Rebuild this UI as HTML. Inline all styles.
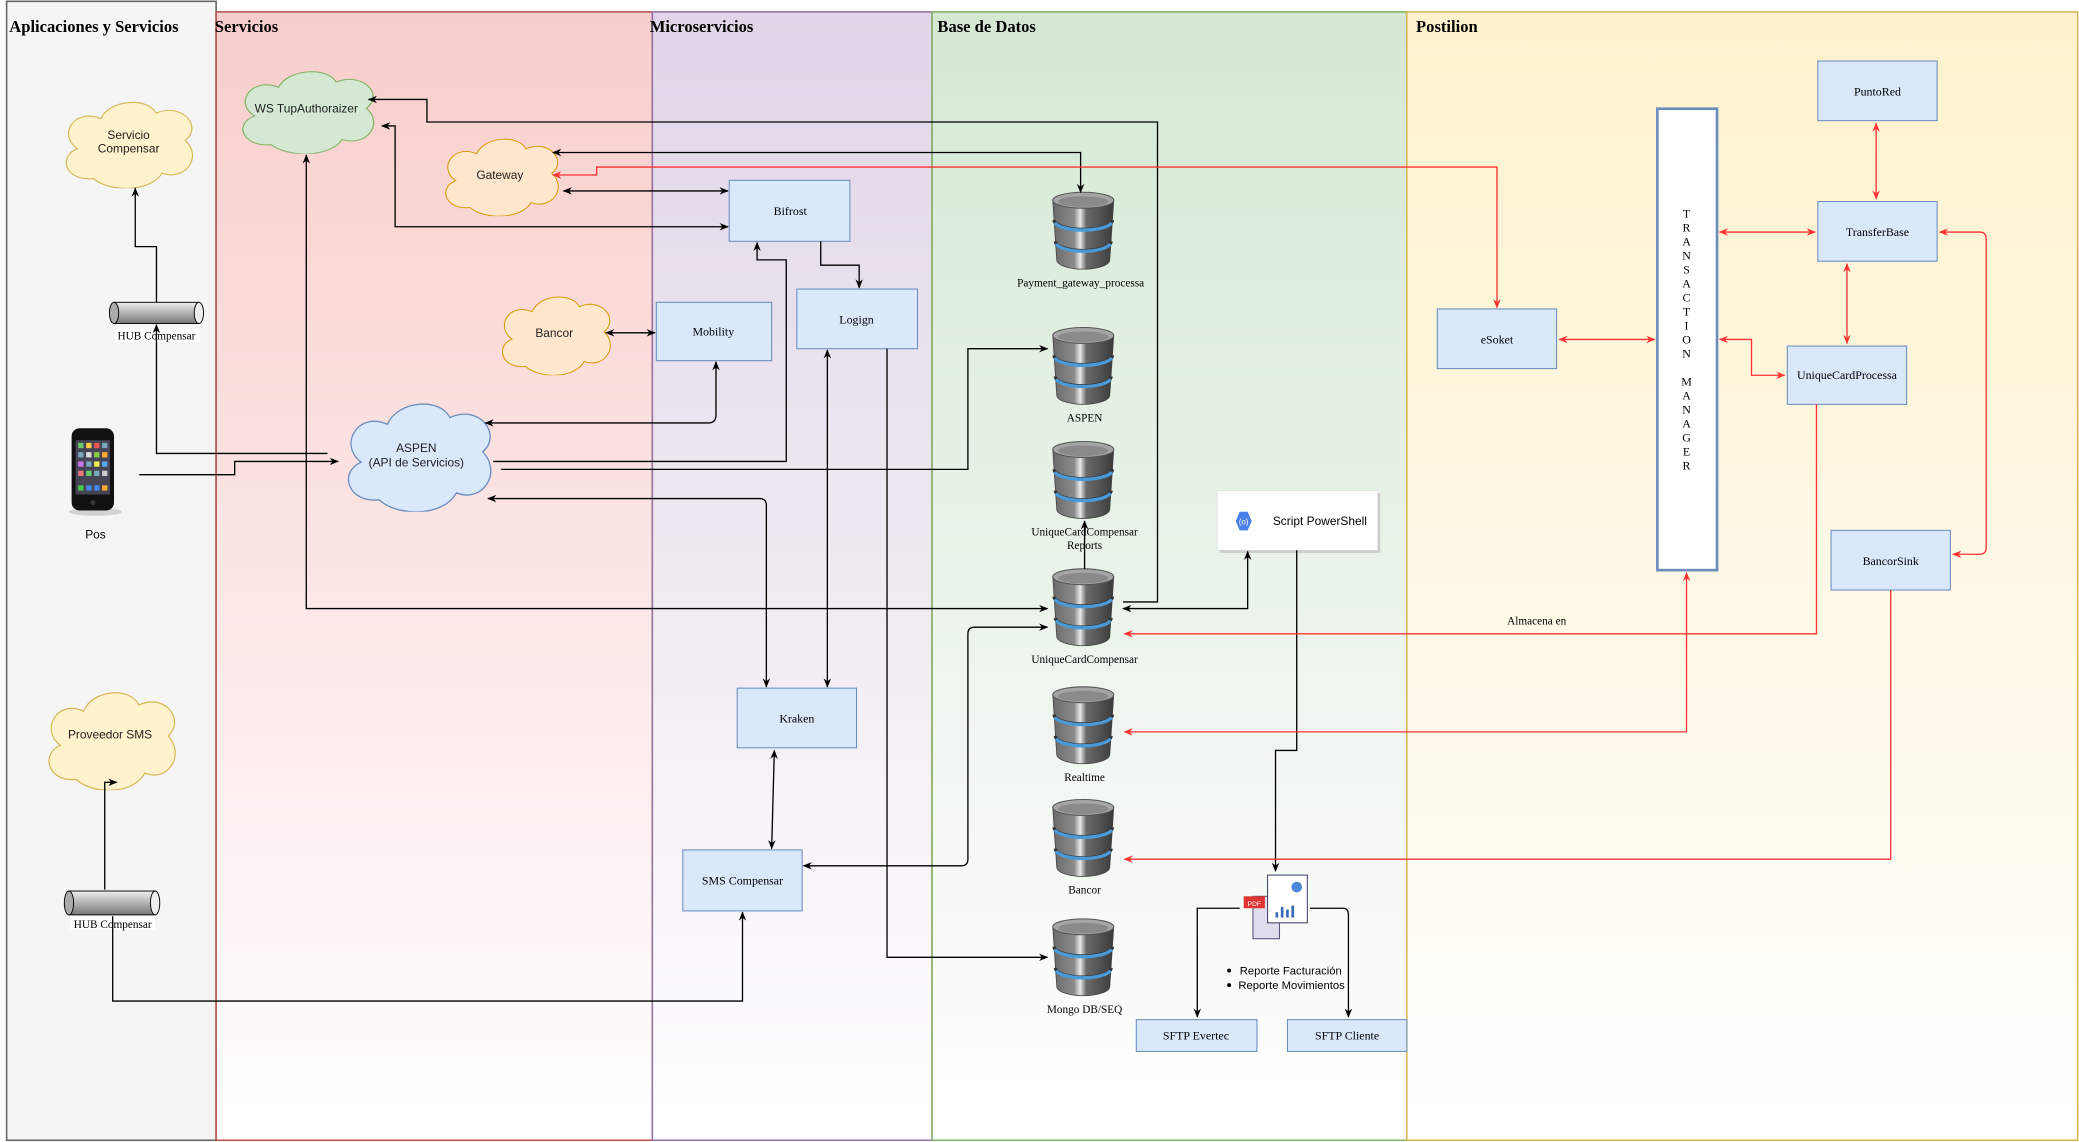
<!DOCTYPE html>
<html><head><meta charset="utf-8"><style>html,body{margin:0;padding:0;background:#fff}svg{display:block}</style></head>
<body>
<svg width="2079" height="1142" viewBox="0 0 1568 861.3" xmlns="http://www.w3.org/2000/svg" font-family="'Liberation Serif', serif">
<defs>
<linearGradient id="gS" x1="0" y1="0" x2="0" y2="1"><stop offset="0" stop-color="#f8cecc"/><stop offset="1" stop-color="#ffffff"/></linearGradient>
<linearGradient id="gM" x1="0" y1="0" x2="0" y2="1"><stop offset="0" stop-color="#e1d5e7"/><stop offset="1" stop-color="#ffffff"/></linearGradient>
<linearGradient id="gB" x1="0" y1="0" x2="0" y2="1"><stop offset="0" stop-color="#d5e8d4"/><stop offset="1" stop-color="#ffffff"/></linearGradient>
<linearGradient id="gP" x1="0" y1="0" x2="0" y2="1"><stop offset="0" stop-color="#fff2cc"/><stop offset="1" stop-color="#ffffff"/></linearGradient>
<linearGradient id="dbg" x1="0" y1="0" x2="1" y2="0"><stop offset="0" stop-color="#6a6a6a"/><stop offset="0.35" stop-color="#8a8a8a"/><stop offset="0.45" stop-color="#e8e8e8"/><stop offset="0.55" stop-color="#6a6a6a"/><stop offset="1" stop-color="#3a3a3a"/></linearGradient>
<linearGradient id="cyl" x1="0" y1="0" x2="0" y2="1"><stop offset="0" stop-color="#eee"/><stop offset="1" stop-color="#777"/></linearGradient>
<marker id="a" viewBox="0 0 10 10" refX="9" refY="5" markerWidth="7" markerHeight="7" markerUnits="userSpaceOnUse" orient="auto-start-reverse"><path d="M0,1 L10,5 L0,9 L3,5z" fill="#000"/></marker>
<marker id="r" viewBox="0 0 10 10" refX="9" refY="5" markerWidth="7" markerHeight="7" markerUnits="userSpaceOnUse" orient="auto-start-reverse"><path d="M0,1 L10,5 L0,9 L3,5z" fill="#f33"/></marker>
<symbol id="db" viewBox="0 0 52 62">
<path d="M3,7 L6,52 A20,7 0 0 0 46,52 L49,7 Z" fill="url(#dbg)" stroke="#444" stroke-width="0.6"/>
<path d="M4,22 A22,7 0 0 0 48,22" fill="none" stroke="#333" stroke-width="2.5"/>
<path d="M4.5,24 A22,7 0 0 0 47.5,24" fill="none" stroke="#4a9ad8" stroke-width="2.5"/>
<path d="M5,38 A21,7 0 0 0 47,38" fill="none" stroke="#333" stroke-width="2.5"/>
<path d="M5.5,40 A21,7 0 0 0 46.5,40" fill="none" stroke="#4a9ad8" stroke-width="2.5"/>
<ellipse cx="26" cy="7" rx="23" ry="6" fill="#a5a5a5" stroke="#555" stroke-width="0.8"/>
<ellipse cx="26" cy="8" rx="19" ry="4" fill="#8a8a8a"/>
</symbol>
<symbol id="cloud" viewBox="0 0 100 65" preserveAspectRatio="none">
<path d="M25,58 C6,60 0,42 14,36 C0,26 12,6 30,14 C36,0 62,-2 68,10 C86,2 100,20 88,30 C100,42 88,60 72,54 C64,68 36,68 25,58 Z"/>
</symbol>
</defs>

<!-- lanes -->
<rect x="5" y="1" width="158" height="859" fill="#f5f5f5" stroke="#666" stroke-width="1.2"/>
<rect x="163" y="9" width="329" height="851" fill="url(#gS)" stroke="#b85450" stroke-width="1.2"/>
<rect x="492" y="9" width="211" height="851" fill="url(#gM)" stroke="#9673a6" stroke-width="1.2"/>
<rect x="703" y="9" width="358" height="851" fill="url(#gB)" stroke="#82b366" stroke-width="1.2"/>
<rect x="1061" y="9" width="506" height="851" fill="url(#gP)" stroke="#d6b656" stroke-width="1.2"/>
<g font-weight="bold" font-size="12.5">
<text x="7" y="24">Aplicaciones y Servicios</text>
<text x="162" y="24">Servicios</text>
<text x="490" y="24">Microservicios</text>
<text x="707" y="24">Base de Datos</text>
<text x="1068" y="24">Postilion</text>
</g>

<!-- clouds -->
<use href="#cloud" x="43" y="75" width="110" height="67" fill="#fff2cc" stroke="#d6b656" stroke-width="0.8"/>
<use href="#cloud" x="176" y="52" width="114" height="64" fill="#d5e8d4" stroke="#82b366" stroke-width="0.8"/>
<use href="#cloud" x="330" y="103" width="98" height="60" fill="#ffe6cc" stroke="#d79b00" stroke-width="0.8"/>
<use href="#cloud" x="373" y="222" width="94" height="61" fill="#ffe6cc" stroke="#d79b00" stroke-width="0.8"/>
<use href="#cloud" x="255" y="302" width="124" height="84" fill="#dae8fc" stroke="#6c8ebf" stroke-width="0.8"/>
<use href="#cloud" x="30" y="520" width="110" height="76" fill="#fff2cc" stroke="#d6b656" stroke-width="0.8"/>
<g font-family="'Liberation Sans', sans-serif" font-size="9" text-anchor="middle" fill="#222">
<text x="97" y="105">Servicio</text><text x="97" y="115">Compensar</text>
<text x="231" y="85">WS TupAuthoraizer</text>
<text x="377" y="135">Gateway</text>
<text x="418" y="254">Bancor</text>
<text x="314" y="341">ASPEN</text><text x="314" y="352">(API de Servicios)</text>
<text x="83" y="557">Proveedor SMS</text>
</g>

<!-- hubs -->
<g stroke="#000" stroke-width="0.7">
<rect x="86" y="228" width="64" height="16" fill="url(#cyl)"/>
<ellipse cx="86" cy="236" rx="3.5" ry="8" fill="#aaa"/>
<ellipse cx="150" cy="236" rx="3.5" ry="8" fill="#eee"/>
<rect x="52" y="672" width="65" height="18" fill="url(#cyl)"/>
<ellipse cx="52" cy="681" rx="3.5" ry="9" fill="#aaa"/>
<ellipse cx="117" cy="681" rx="3.5" ry="9" fill="#eee"/>
</g>
<g font-size="8.5" text-anchor="middle">
<rect x="87" y="248" width="64" height="10" fill="#fff"/>
<text x="118" y="256">HUB Compensar</text>
<rect x="53" y="691" width="64" height="10" fill="#fff"/>
<text x="85" y="700">HUB Compensar</text>
</g>

<!-- phone -->
<ellipse cx="72" cy="386" rx="20" ry="3" fill="#bbb" opacity="0.6"/>
<rect x="54" y="323" width="32" height="62" rx="6" fill="#111"/>
<rect x="57" y="332" width="26" height="41" fill="#445"/>
<g fill="#7ab">
<rect x="59" y="334" width="4" height="4" fill="#6c6"/><rect x="65" y="334" width="4" height="4" fill="#fc4"/><rect x="71" y="334" width="4" height="4" fill="#e55"/><rect x="77" y="334" width="4" height="4"/>
<rect x="59" y="341" width="4" height="4"/><rect x="65" y="341" width="4" height="4" fill="#ddd"/><rect x="71" y="341" width="4" height="4" fill="#8c4"/><rect x="77" y="341" width="4" height="4" fill="#fa3"/>
<rect x="59" y="348" width="4" height="4" fill="#c7e"/><rect x="65" y="348" width="4" height="4"/><rect x="71" y="348" width="4" height="4" fill="#ee5"/><rect x="77" y="348" width="4" height="4" fill="#5ae"/>
<rect x="59" y="355" width="4" height="4" fill="#e77"/><rect x="65" y="355" width="4" height="4" fill="#6c6"/><rect x="71" y="355" width="4" height="4"/><rect x="77" y="355" width="4" height="4" fill="#ccc"/>
<rect x="59" y="366" width="4" height="4" fill="#4c4"/><rect x="65" y="366" width="4" height="4" fill="#48e"/><rect x="71" y="366" width="4" height="4" fill="#48e"/><rect x="77" y="366" width="4" height="4" fill="#fa3"/>
</g>
<circle cx="70" cy="379" r="2" fill="#333"/>
<text x="72" y="406" font-family="'Liberation Sans', sans-serif" font-size="9" text-anchor="middle">Pos</text>

<!-- boxes -->
<g fill="#dae8fc" stroke="#6c8ebf" stroke-width="0.8">
<rect x="550" y="136" width="91" height="46"/>
<rect x="495" y="228" width="87" height="44"/>
<rect x="601" y="218" width="91" height="45"/>
<rect x="556" y="519" width="90" height="45"/>
<rect x="515" y="641" width="90" height="46"/>
<rect x="857" y="769" width="91" height="24"/>
<rect x="971" y="769" width="90" height="24"/>
<rect x="1084" y="233" width="90" height="45"/>
<rect x="1371" y="46" width="90" height="45"/>
<rect x="1371" y="152" width="90" height="45"/>
<rect x="1348" y="261" width="90" height="44"/>
<rect x="1381" y="400" width="90" height="45"/>
</g>
<g font-size="9" text-anchor="middle">
<text x="596" y="162">Bifrost</text>
<text x="538" y="253">Mobility</text>
<text x="646" y="244">Logign</text>
<text x="601" y="545">Kraken</text>
<text x="560" y="667">SMS Compensar</text>
<text x="902" y="784">SFTP Evertec</text>
<text x="1016" y="784">SFTP Cliente</text>
<text x="1129" y="259">eSoket</text>
<text x="1416" y="72">PuntoRed</text>
<text x="1416" y="178">TransferBase</text>
<text x="1393" y="286">UniqueCardProcessa</text>
<text x="1426" y="426">BancorSink</text>
</g>

<!-- transaction manager -->
<rect x="1250" y="82" width="45" height="348" fill="#fff" stroke="#6c8ebf" stroke-width="2"/>
<g font-size="9" text-anchor="middle">
<text x="1272" y="164">T</text><text x="1272" y="174.5">R</text><text x="1272" y="185">A</text><text x="1272" y="195.6">N</text><text x="1272" y="206.2">S</text><text x="1272" y="216.7">A</text><text x="1272" y="227.3">C</text><text x="1272" y="237.8">T</text><text x="1272" y="248.4">I</text><text x="1272" y="259">O</text><text x="1272" y="269.5">N</text>
<text x="1272" y="290.6">M</text><text x="1272" y="301.2">A</text><text x="1272" y="311.7">N</text><text x="1272" y="322.3">A</text><text x="1272" y="332.8">G</text><text x="1272" y="343.4">E</text><text x="1272" y="354">R</text>
</g>

<!-- DBs -->
<use href="#db" x="791" y="144" width="52" height="62"/>
<use href="#db" x="791" y="246" width="52" height="62"/>
<use href="#db" x="791" y="332" width="52" height="62"/>
<use href="#db" x="791" y="428" width="52" height="62"/>
<use href="#db" x="791" y="517" width="52" height="62"/>
<use href="#db" x="791" y="602" width="52" height="62"/>
<use href="#db" x="791" y="692" width="52" height="62"/>
<g font-size="8.5" text-anchor="middle">
<text x="815" y="216">Payment_gateway_processa</text>
<text x="818" y="318">ASPEN</text>
<text x="818" y="404">UniqueCardCompensar</text><text x="818" y="414">Reports</text>
<text x="818" y="500">UniqueCardCompensar</text>
<text x="818" y="589">Realtime</text>
<text x="818" y="674">Bancor</text>
<text x="818" y="764">Mongo DB/SEQ</text>
</g>

<!-- script powershell -->
<rect x="920" y="372" width="121" height="45" fill="#ccc"/>
<rect x="918" y="370" width="121" height="45" fill="#fff" stroke="#ddd" stroke-width="0.5"/>
<polygon points="932,393 935,386 941,386 944,393 941,400 935,400" fill="#4a80e8"/>
<text x="938" y="395.5" font-size="6" fill="#fff" text-anchor="middle" font-family="'Liberation Sans', sans-serif">(o)</text>
<text x="960" y="396" font-family="'Liberation Sans', sans-serif" font-size="9">Script PowerShell</text>

<!-- report icon -->
<rect x="945" y="676" width="20" height="32" fill="#dde" stroke="#557" stroke-width="0.8"/>
<rect x="938" y="676" width="16" height="9" fill="#d33"/>
<text x="946" y="683.5" font-size="5" fill="#fff" text-anchor="middle" font-family="'Liberation Sans', sans-serif">PDF</text>
<rect x="956" y="660" width="30" height="36" fill="#fff" stroke="#446" stroke-width="0.8"/>
<circle cx="978" cy="669" r="4" fill="#4a8ad8"/>
<g fill="#3a6ab8"><rect x="962" y="688" width="2" height="4"/><rect x="966" y="684" width="2" height="8"/><rect x="970" y="686" width="2" height="6"/><rect x="974" y="683" width="2" height="9"/></g>
<g font-family="'Liberation Sans', sans-serif" font-size="8.5">
<circle cx="927" cy="732" r="1.5"/><text x="935" y="735">Reporte Facturación</text>
<circle cx="927" cy="743" r="1.5"/><text x="934" y="746">Reporte Movimientos</text>
</g>

<!-- black connectors -->
<g fill="none" stroke="#000" stroke-width="1">
<path d="M847,454 H873 V92 H322 V75 H278" marker-end="url(#a)"/>
<path d="M288,95 H298 V171 H549" marker-start="url(#a)" marker-end="url(#a)"/>
<path d="M417,115 H815 V145" marker-start="url(#a)" marker-end="url(#a)"/>
<path d="M425,144 H549" marker-start="url(#a)" marker-end="url(#a)"/>
<path d="M619,182 V200 H648 V217" marker-end="url(#a)"/>
<path d="M372,348 H593 V196 H571 V183" marker-end="url(#a)"/>
<path d="M457,251 H494" marker-start="url(#a)" marker-end="url(#a)"/>
<path d="M540,273 V313 Q540,319 534,319 H366" marker-start="url(#a)" marker-end="url(#a)"/>
<path d="M105,358 H177 V348 H255" marker-end="url(#a)"/>
<path d="M247,342 H118 V245" marker-end="url(#a)"/>
<path d="M118,228 V186 H102 V142" marker-end="url(#a)"/>
<path d="M378,354 H730 V263 H790" marker-end="url(#a)"/>
<path d="M368,376 H573 Q578,376 578,381 V518" marker-start="url(#a)" marker-end="url(#a)"/>
<path d="M624,264 V518" marker-start="url(#a)" marker-end="url(#a)"/>
<path d="M669,263 V722 H790" marker-end="url(#a)"/>
<path d="M231,117 V459 H790" marker-start="url(#a)" marker-end="url(#a)"/>
<path d="M606,653 H725 Q730,653 730,648 V478 Q730,473 735,473 H790" marker-start="url(#a)" marker-end="url(#a)"/>
<path d="M584,566 L582,640" marker-start="url(#a)" marker-end="url(#a)"/>
<path d="M85,691 V755 H560 V688" marker-end="url(#a)"/>
<path d="M79,671 V590 H88" marker-end="url(#a)"/>
<path d="M818,429 V393" marker-end="url(#a)"/>
<path d="M847,459 H941 V416" marker-start="url(#a)" marker-end="url(#a)"/>
<path d="M978,415 V566 H962 V657" marker-end="url(#a)"/>
<path d="M935,685 H903 V767" marker-end="url(#a)"/>
<path d="M988,685 H1013 Q1017,685 1017,690 V767" marker-end="url(#a)"/>
</g>

<!-- red connectors -->
<g fill="none" stroke="#f33" stroke-width="1">
<path d="M1129,232 V126 H450 V132 H417" marker-start="url(#r)" marker-end="url(#r)"/>
<path d="M1176,256 H1248" marker-start="url(#r)" marker-end="url(#r)"/>
<path d="M1297,175 H1369" marker-start="url(#r)" marker-end="url(#r)"/>
<path d="M1415,93 V150" marker-start="url(#r)" marker-end="url(#r)"/>
<path d="M1393,199 V259" marker-start="url(#r)" marker-end="url(#r)"/>
<path d="M1297,256 H1321 V283 H1346" marker-start="url(#r)" marker-end="url(#r)"/>
<path d="M1463,175 H1493 Q1498,175 1498,180 V413 Q1498,418 1493,418 H1473" marker-start="url(#r)" marker-end="url(#r)"/>
<path d="M1370,305 V478 H848" marker-end="url(#r)"/>
<path d="M1272,432 V552 H848" marker-start="url(#r)" marker-end="url(#r)"/>
<path d="M1426,445 V648 H848" marker-end="url(#r)"/>
</g>
<text x="1159" y="471" font-size="8.5" text-anchor="middle">Almacena en</text>
</svg>
</body></html>
